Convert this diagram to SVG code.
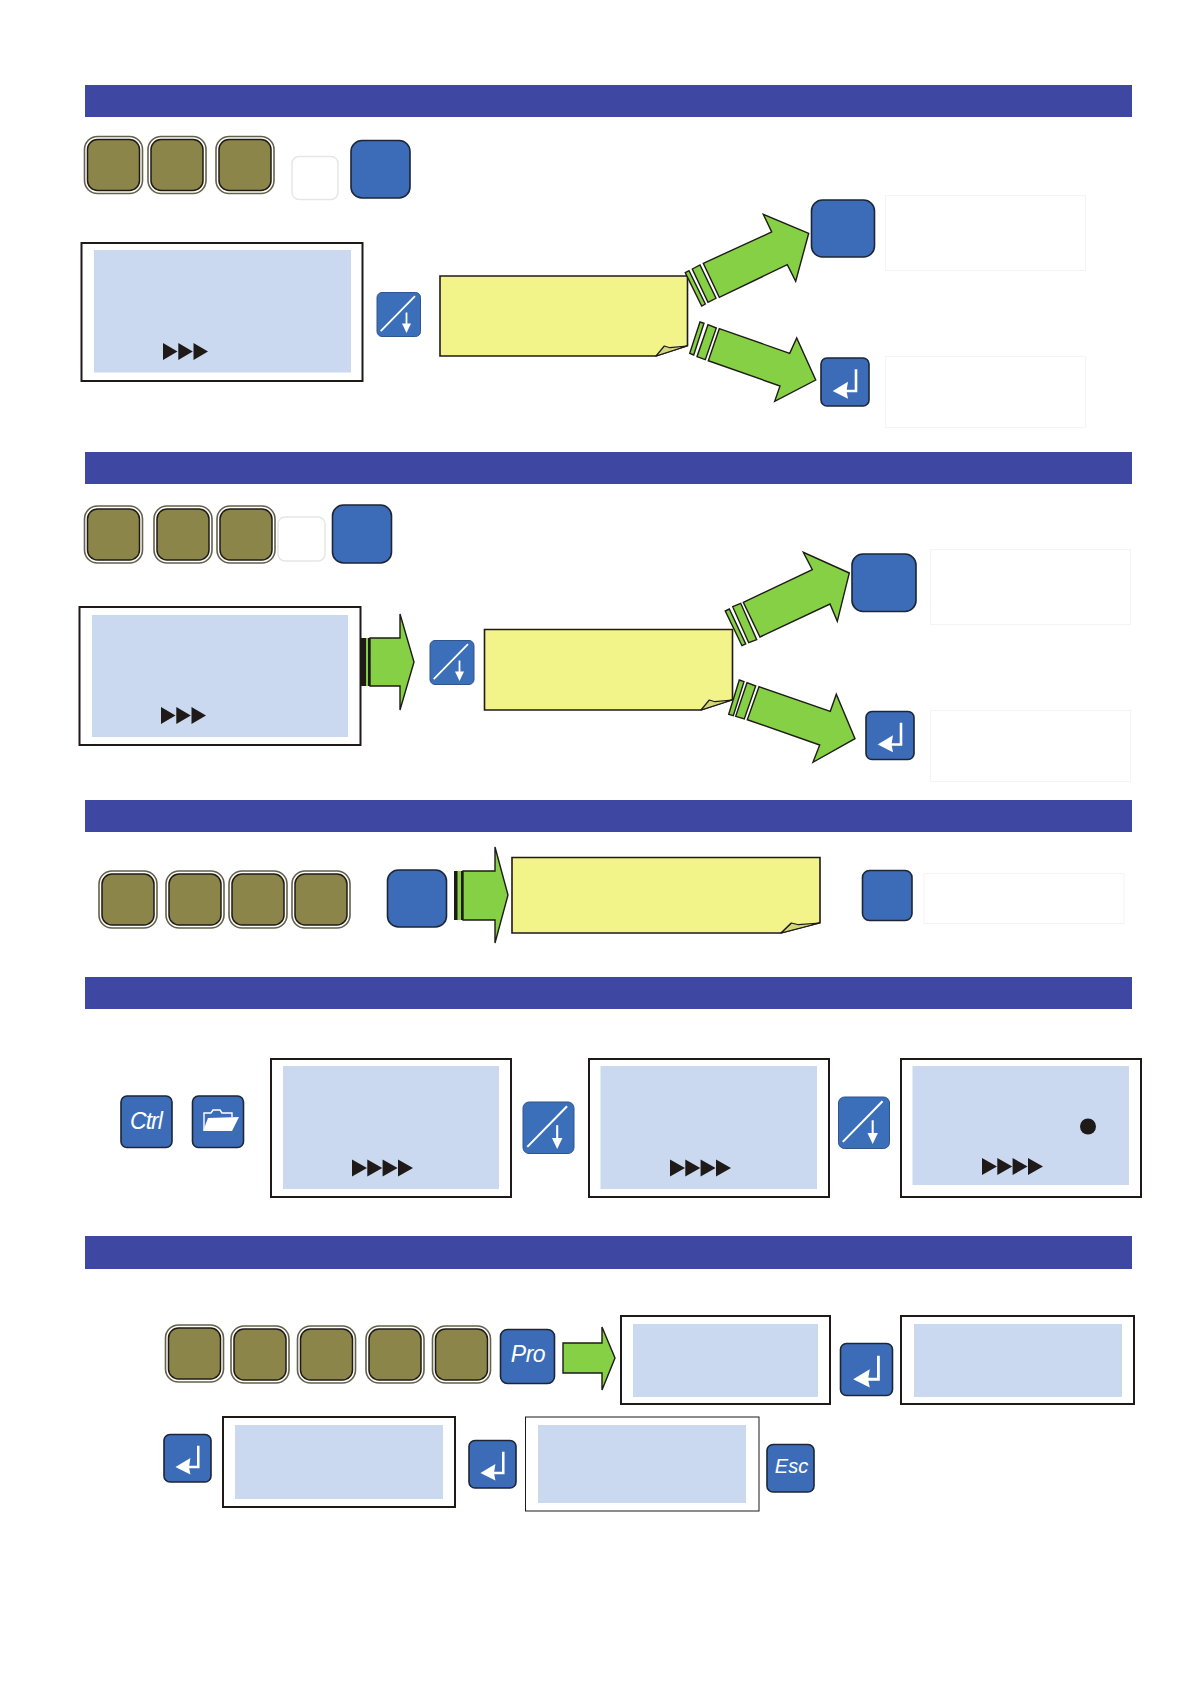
<svg xmlns="http://www.w3.org/2000/svg" width="1190" height="1684" viewBox="0 0 1190 1684">
<style>
.bar{fill:#3e48a3}
.ko{fill:#fff;stroke:#62624a;stroke-width:1.6}
.ki{fill:#8c8549;stroke:#1f1a17;stroke-width:1.5}
.kb{fill:#3c6cb8;stroke:#1c2636;stroke-width:1.6}
.ks{fill:#3c6fb9;stroke:#2f558c;stroke-width:1}
.kw{fill:#fff;stroke:#e6e6e6;stroke-width:1.5}
.box{fill:#fff;stroke:#f4f4f4;stroke-width:1}
.frame{fill:#fff;stroke:#1f1a17;stroke-width:2}
.lcd{fill:#cad8f0}
.note{fill:#f2f48a;stroke:#1f1a17;stroke-width:1.6;stroke-linejoin:miter}
.fold{fill:#d3d77c;stroke:#1f1a17;stroke-width:1.2;stroke-linejoin:round}
.ar{fill:#85d044;stroke:#1f1a17;stroke-width:1.4;stroke-linejoin:miter}
.tri{fill:#1f1a17}
.w{stroke:#fff;fill:none}
.wf{fill:#fff}
.t{fill:#fff;font-family:"Liberation Sans",Arial,sans-serif;font-style:italic;text-anchor:middle}
</style>
<defs>
<symbol id="gEnter" viewBox="0 0 48 48"><path class="w" stroke-width="2.600" d="M35 11.300V33H24"/><path class="wf" d="M11.700 33L27 23.700L25.500 33L27 40.700Z"/></symbol>
<symbol id="gSlash" viewBox="0 0 44 44"><path class="w" stroke-width="1.800" d="M38 3.700L3.700 38.700"/><path class="w" stroke-width="1.800" d="M29.500 20V32"/><path class="wf" d="M25 31H34L29.500 40.500Z"/></symbol>
<g id="t3"><path class="tri" d="M0 0L14.500 8.500L0 17ZM15.300 0L29.800 8.500L15.300 17ZM30.500 0L45 8.500L30.500 17Z"/></g>
<g id="t4"><path class="tri" d="M0 0L15 8.500L0 17ZM15.300 0L30.300 8.500L15.300 17ZM30.600 0L45.600 8.500L30.600 17ZM46 0L61 8.500L46 17Z"/></g>
<g id="ok"><rect class="ko" x="0" y="0" width="58" height="57" rx="13"/><rect class="ki" x="3" y="3" width="52" height="51" rx="10"/></g>
<path id="fold1" class="fold" d="M0 0L8.300 -10L14 -8.300L31 -10Z"/>
</defs>

<g id="bars">
<rect class="bar" x="85" y="85" width="1047" height="32"/>
<rect class="bar" x="85" y="452" width="1047" height="32"/>
<rect class="bar" x="85" y="800" width="1047" height="32"/>
<rect class="bar" x="85" y="977" width="1047" height="32"/>
<rect class="bar" x="85" y="1236" width="1047" height="33"/>
</g>

<g id="section1">
<g id="s1k1"><use href="#ok" x="84.500" y="136.500"/></g>
<g id="s1k2"><use href="#ok" x="148" y="136.500"/></g>
<g id="s1k3"><use href="#ok" x="216" y="136.500"/></g>
<g id="s1k4"><rect class="kw" x="292" y="156.500" width="46" height="43" rx="7"/></g>
<g id="s1k5"><rect class="kb" x="351" y="140.500" width="59" height="57.500" rx="11"/></g>
<g id="s1lcd"><rect class="frame" x="81.500" y="243" width="281" height="138"/><rect class="lcd" x="94" y="250" width="257" height="122.500"/><use href="#t3" x="163" y="343"/></g>
<g id="s1slash"><rect class="ks" x="377" y="292.500" width="43.500" height="44" rx="5"/><use href="#gSlash" x="377" y="292.500" width="44" height="44"/></g>
<g id="s1note"><path class="note" d="M440 276H687.500V345.700L656 356H440Z"/><use href="#fold1" x="656" y="356"/></g>
<g id="s1k6"><rect class="kb" x="811.500" y="200" width="63" height="57" rx="11"/></g>
<g id="s1box1"><rect class="box" x="885.500" y="195.500" width="200" height="75"/></g>
<g id="s1k7"><rect class="kb" x="821" y="358" width="48" height="48" rx="6"/><use href="#gEnter" x="821" y="358" width="48" height="48"/></g>
<g id="s1box2"><rect class="box" x="885.500" y="356.500" width="200" height="71"/></g>
</g>

<g id="section2">
<g id="s2k1"><use href="#ok" x="84.500" y="506"/></g>
<g id="s2k2"><use href="#ok" x="154" y="506"/></g>
<g id="s2k3"><use href="#ok" x="217" y="506"/></g>
<g id="s2k4"><rect class="kw" x="278" y="517" width="47" height="44" rx="7"/></g>
<g id="s2k5"><rect class="kb" x="332.500" y="505" width="59" height="58" rx="11"/></g>
<g id="s2lcd"><rect class="frame" x="79.500" y="607" width="281" height="138"/><rect class="lcd" x="92" y="615" width="256" height="122"/><use href="#t3" x="161" y="707"/></g>
<g id="s2slash"><rect class="ks" x="430" y="640.500" width="44" height="44" rx="5"/><use href="#gSlash" x="430" y="640.500" width="44" height="44"/></g>
<g id="s2note"><path class="note" d="M484.500 629.500H732.500V699.700L701 710H484.500Z"/><use href="#fold1" x="701" y="710"/></g>
<g id="s2k6"><rect class="kb" x="852" y="554" width="64" height="57.500" rx="11"/></g>
<g id="s2box1"><rect class="box" x="930.500" y="549.500" width="200" height="75"/></g>
<g id="s2k7"><rect class="kb" x="866" y="711.500" width="48" height="48" rx="6"/><use href="#gEnter" x="866" y="711.500" width="48" height="48"/></g>
<g id="s2box2"><rect class="box" x="930.500" y="710.500" width="200" height="71"/></g>
</g>

<g id="section3">
<g id="s3k1"><use href="#ok" x="99" y="871"/></g>
<g id="s3k2"><use href="#ok" x="166" y="871"/></g>
<g id="s3k3"><use href="#ok" x="229" y="871"/></g>
<g id="s3k4"><use href="#ok" x="292" y="871"/></g>
<g id="s3k5"><rect class="kb" x="387.500" y="870" width="59" height="57" rx="11"/></g>
<g id="s3note"><path class="note" d="M512 857.500H820V922.700L781 933H512Z"/><use href="#fold1" x="781" y="933" transform="translate(781 933) scale(1.250 1) translate(-781 -933)"/></g>
<g id="s3k6"><rect class="kb" x="862.500" y="870.500" width="49.500" height="50" rx="7"/></g>
<g id="s3box"><rect class="box" x="924" y="873.500" width="200" height="50"/></g>
</g>

<g id="section4">
<g id="s4ctrl"><rect class="kb" x="121" y="1096" width="51" height="51.500" rx="6"/><text class="t" x="146" y="1129" font-size="23" letter-spacing="-1">Ctrl</text></g>
<g id="s4open"><rect class="kb" x="192.500" y="1096" width="51" height="51.500" rx="6"/><path class="w" stroke-width="1.400" d="M204 1130V1113H211L213 1110H220L222 1113H232V1117"/><path class="wf" d="M208 1118L239 1117L232 1131H203Z"/></g>
<g id="s4lcd1"><rect class="frame" x="271" y="1059" width="240" height="138"/><rect class="lcd" x="283" y="1066" width="216" height="123"/><use href="#t4" x="352" y="1159.500"/></g>
<g id="s4sl1"><rect class="ks" x="523" y="1102" width="51" height="51.500" rx="6"/><use href="#gSlash" x="523" y="1102" width="51" height="51"/></g>
<g id="s4lcd2"><rect class="frame" x="589" y="1059" width="240" height="138"/><rect class="lcd" x="600.500" y="1066" width="216.500" height="123"/><use href="#t4" x="670" y="1159.500"/></g>
<g id="s4sl2"><rect class="ks" x="838.500" y="1097" width="51" height="51.500" rx="6"/><use href="#gSlash" x="838.500" y="1097" width="51" height="51"/></g>
<g id="s4lcd3"><rect class="frame" x="901" y="1059" width="240" height="138"/><rect class="lcd" x="912.500" y="1066" width="216.500" height="119"/><circle cx="1088" cy="1126.500" r="8" fill="#1f1a17"/><use href="#t4" x="982" y="1158"/></g>
</g>

<g id="section5">
<g id="s5k1"><use href="#ok" x="165.500" y="1325"/></g>
<g id="s5k2"><use href="#ok" x="231" y="1326"/></g>
<g id="s5k3"><use href="#ok" x="297.500" y="1326"/></g>
<g id="s5k4"><use href="#ok" x="366" y="1326"/></g>
<g id="s5k5"><use href="#ok" x="432.500" y="1326"/></g>
<g id="s5pro"><rect class="kb" x="500.500" y="1329.500" width="54" height="54" rx="7"/><text class="t" x="528" y="1362" font-size="23" letter-spacing="-0.500">Pro</text></g>
<g id="s5lcd1"><rect class="frame" x="621" y="1316" width="209" height="88"/><rect class="lcd" x="633" y="1324" width="185" height="73"/></g>
<g id="s5e1"><rect class="kb" x="840.500" y="1343.500" width="52" height="52" rx="6"/><use href="#gEnter" x="840.500" y="1343.500" width="52" height="52"/></g>
<g id="s5lcd2"><rect class="frame" x="901" y="1316" width="233" height="88"/><rect class="lcd" x="914" y="1324" width="208" height="73"/></g>
<g id="s5e2"><rect class="kb" x="164" y="1434.500" width="47" height="47.500" rx="6"/><use href="#gEnter" x="164" y="1434.500" width="47" height="47.500"/></g>
<g id="s5lcd3"><rect class="frame" x="223" y="1417" width="232" height="90"/><rect class="lcd" x="235" y="1425" width="208" height="74"/></g>
<g id="s5e3"><rect class="kb" x="469" y="1440.500" width="47" height="47.500" rx="6"/><use href="#gEnter" x="469" y="1440.500" width="47" height="47.500"/></g>
<g id="s5lcd4"><rect x="525.500" y="1417" width="233.500" height="94" fill="#fff" stroke="#1f1a17" stroke-width="1"/><rect class="lcd" x="538" y="1425" width="208" height="78"/></g>
<g id="s5esc"><rect class="kb" x="767" y="1444.500" width="47" height="47.500" rx="6"/><text class="t" x="791.500" y="1473" font-size="20">Esc</text></g>
</g>

<g id="connectors">
<g id="a1"><path class="ar" d="M685.300 272.700L689 270.700L705.300 304L701.700 306Z"/><path class="ar" d="M692.300 269L700 265L716 298.300L708 302.300Z"/><path class="ar" d="M703.300 263.300L771.700 232L763.300 214.300L808.700 233.300L795.700 281.300L787.300 264.700L719.300 297.300Z"/></g>
<g id="a2"><path class="ar" d="M700 322L704 323.300L693.700 355L689.700 353.300Z"/><path class="ar" d="M708 324.700L716.300 328L705.300 359.700L697 356.700Z"/><path class="ar" d="M719.300 328.700L789.700 353.300L796.700 338L815.700 380L774.700 401.300L780 386L708.300 360.700Z"/></g>
<g id="a3"><path class="ar" d="M725.300 611L729.300 609L745.700 644L742 645.700Z"/><path class="ar" d="M732.700 606.700L740.700 603.300L756.700 639.700L748.700 642.700Z"/><path class="ar" d="M743.300 602.300L812.300 569.700L803.300 552.300L849.300 573L837.300 621.300L830 604L760 637Z"/></g>
<g id="a4"><path class="ar" d="M739.300 680L744 681.700L733.300 715.700L728.700 714.300Z"/><path class="ar" d="M747 682.700L755.700 686L744.300 719L735.700 716.300Z"/><path class="ar" d="M759 686.700L830.300 711.300L836.300 694.300L855 738.700L813 762.300L819.700 745L747.300 719.700Z"/></g>
<g id="a5"><rect x="361" y="638" width="10" height="48" fill="#1f1a17"/><rect x="366" y="638" width="2" height="48" fill="#85d044"/><path class="ar" d="M370 638H400V614L414 662L400 710V686H370Z"/></g>
<g id="a6"><rect x="454" y="871" width="10" height="49" fill="#1f1a17"/><rect x="457.500" y="871" width="3.500" height="49" fill="#85d044"/><path class="ar" d="M463 871H495V847L508 895L495 943V920H463Z"/></g>
<g id="a7"><path class="ar" d="M563 1343H602V1327L615 1358L602 1390V1373H563Z"/></g>
</g>
</svg>
